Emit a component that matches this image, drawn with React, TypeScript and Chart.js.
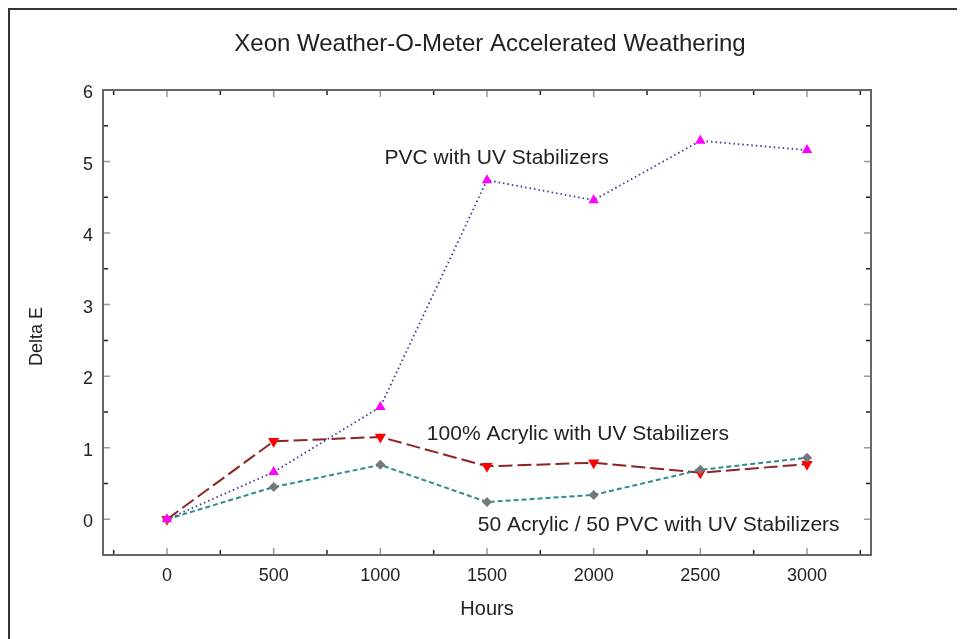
import React, { useEffect, useRef } from "react";
import { Chart, registerables } from "chart.js";

Chart.register(...registerables);

const hours = [0, 500, 1000, 1500, 2000, 2500, 3000];
const pvcValues = [0, 0.66, 1.57, 4.74, 4.46, 5.29, 5.16];
const acrylicValues = [0, 1.09, 1.15, 0.74, 0.79, 0.65, 0.77];
const blendValues = [0, 0.45, 0.76, 0.24, 0.34, 0.69, 0.86];

const xTickValues = [0, 500, 1000, 1500, 2000, 2500, 3000];
const xMinorValues = [-250, 250, 750, 1250, 1750, 2250, 2750, 3250];
const yTickValues = [0, 1, 2, 3, 4, 5, 6];
const yMinorValues = [0.5, 1.5, 2.5, 3.5, 4.5, 5.5];

const titleText = "Xeon Weather-O-Meter Accelerated Weathering";
const xTitle = "Hours";
const yTitle = "Delta E";

const seriesLabels = [
  "PVC with UV Stabilizers",
  "50 Acrylic / 50 PVC with UV Stabilizers",
  "100% Acrylic with UV Stabilizers",
];

// annotation anchors (data coordinates: hours, delta E)
const annotations = [
  { text: "PVC with UV Stabilizers", x: 1020, y: 5.04 },
  { text: "100% Acrylic with UV Stabilizers", x: 1218, y: 1.19 },
  { text: "50 Acrylic / 50 PVC with UV Stabilizers", x: 1457, y: -0.09 },
];

const FONT = "'Liberation Sans', Arial, sans-serif";

const framePlugin = {
  id: "framePlugin",
  afterDraw(chart: any) {
    const { ctx, chartArea } = chart;
    const xs = chart.scales.x;
    const ys = chart.scales.y;
    const { left, right, top, bottom } = chartArea;
    ctx.save();
    // ticks
    ctx.lineWidth = 1.5;
    ctx.strokeStyle = "#999";
    const majLen = 7;
    const minLen = 5;
    xTickValues.forEach((v) => {
      const px = xs.getPixelForValue(v);
      ctx.beginPath();
      ctx.moveTo(px, bottom);
      ctx.lineTo(px, bottom - majLen);
      ctx.moveTo(px, top);
      ctx.lineTo(px, top + majLen);
      ctx.stroke();
    });
    yTickValues.forEach((v) => {
      const py = ys.getPixelForValue(v);
      ctx.beginPath();
      ctx.moveTo(left, py);
      ctx.lineTo(left + majLen, py);
      ctx.moveTo(right, py);
      ctx.lineTo(right - majLen, py);
      ctx.stroke();
    });
    ctx.strokeStyle = "#222";
    xMinorValues.forEach((v) => {
      const px = xs.getPixelForValue(v);
      ctx.beginPath();
      ctx.moveTo(px, bottom);
      ctx.lineTo(px, bottom - minLen);
      ctx.moveTo(px, top);
      ctx.lineTo(px, top + minLen);
      ctx.stroke();
    });
    yMinorValues.forEach((v) => {
      const py = ys.getPixelForValue(v);
      ctx.beginPath();
      ctx.moveTo(left, py);
      ctx.lineTo(left + minLen, py);
      ctx.moveTo(right, py);
      ctx.lineTo(right - minLen, py);
      ctx.stroke();
    });
    // frame
    ctx.strokeStyle = "#666";
    ctx.lineWidth = 2;
    ctx.strokeRect(left, top, right - left, bottom - top);
    // title
    ctx.fillStyle = "#222";
    ctx.font = `24px ${FONT}`;
    ctx.textAlign = "center";
    ctx.textBaseline = "middle";
    ctx.fillText(titleText, (left + right) / 2 + 3, 44);
    // y axis title
    ctx.save();
    ctx.font = `18px ${FONT}`;
    ctx.translate(37, (top + bottom) / 2 + 14);
    ctx.rotate(-Math.PI / 2);
    ctx.fillText(yTitle, 0, 0);
    ctx.restore();
    // annotations
    ctx.font = `21px ${FONT}`;
    ctx.textAlign = "left";
    annotations.forEach((a) => {
      ctx.fillText(a.text, xs.getPixelForValue(a.x), ys.getPixelForValue(a.y));
    });
    ctx.restore();
  },
};

export default function App() {
  const canvasRef = useRef<HTMLCanvasElement | null>(null);

  useEffect(() => {
    if (!canvasRef.current) return;
    const toPts = (vals: number[]) => hours.map((h, i) => ({ x: h, y: vals[i] }));
    const chart = new Chart(canvasRef.current, {
      type: "line",
      data: {
        datasets: [
          {
            label: seriesLabels[0],
            data: toPts(pvcValues),
            borderColor: "#3a3a9c",
            borderWidth: 1.8,
            borderDash: [1.5, 3],
            pointStyle: "triangle",
            pointRadius: 6,
            pointBackgroundColor: "#ff00ff",
            pointBorderColor: "#ff00ff",
            pointBorderWidth: 0,
            tension: 0,
          },
          {
            label: seriesLabels[1],
            data: toPts(blendValues),
            borderColor: "#2e8b8b",
            borderWidth: 2,
            borderDash: [5, 3],
            pointStyle: "rectRot",
            pointRadius: 5,
            pointBackgroundColor: "#777",
            pointBorderColor: "#777",
            pointBorderWidth: 0,
            tension: 0,
          },
          {
            label: seriesLabels[2],
            data: toPts(acrylicValues),
            borderColor: "#8e2323",
            borderWidth: 2,
            borderDash: [14, 5],
            pointStyle: "triangle",
            pointRotation: 180,
            pointRadius: 6.5,
            pointBackgroundColor: "#ff0000",
            pointBorderColor: "#ff0000",
            pointBorderWidth: 0,
            tension: 0,
          } as any,
        ],
      },
      options: {
        animation: false,
        responsive: false,
        maintainAspectRatio: false,
        layout: { padding: { top: 90, right: 94, left: 0, bottom: 0 } },
        plugins: {
          legend: { display: false },
          title: { display: false },
          tooltip: { enabled: false },
        },
        scales: {
          x: {
            type: "linear",
            min: -300,
            max: 3300,
            afterBuildTicks: (s: any) => {
              s.ticks = xTickValues.map((v) => ({ value: v }));
            },
            afterFit: (s: any) => {
              s.height = 84;
            },
            grid: { display: false, drawTicks: false },
            border: { display: false },
            ticks: {
              padding: 10,
              color: "#222",
              font: { family: FONT, size: 18 },
              maxRotation: 0,
              callback: (v: any) => String(v),
            },
            title: {
              display: true,
              text: xTitle,
              color: "#222",
              font: { family: FONT, size: 20 },
              padding: { top: 0, bottom: 18 },
            },
          },
          y: {
            type: "linear",
            min: -0.5,
            max: 6,
            afterBuildTicks: (s: any) => {
              s.ticks = yTickValues.map((v) => ({ value: v }));
            },
            afterFit: (s: any) => {
              s.width = 103;
            },
            grid: { display: false, drawTicks: false },
            border: { display: false },
            ticks: {
              padding: 10,
              labelOffset: 3,
              color: "#222",
              font: { family: FONT, size: 18 },
              callback: (v: any) => String(v),
            },
            title: { display: false },
          },
        },
      },
      plugins: [framePlugin],
    });
    return () => chart.destroy();
  }, []);

  return (
    <div
      style={{
        position: "relative",
        width: 955,
        height: 629,
        borderLeft: "2px solid #333",
        borderTop: "2px solid #333",
        overflow: "visible",
      }}
    >
      <canvas
        ref={canvasRef}
        width={965}
        height={639}
        style={{ position: "absolute", left: -10, top: -10, width: 965, height: 639 }}
      />
    </div>
  );
}
